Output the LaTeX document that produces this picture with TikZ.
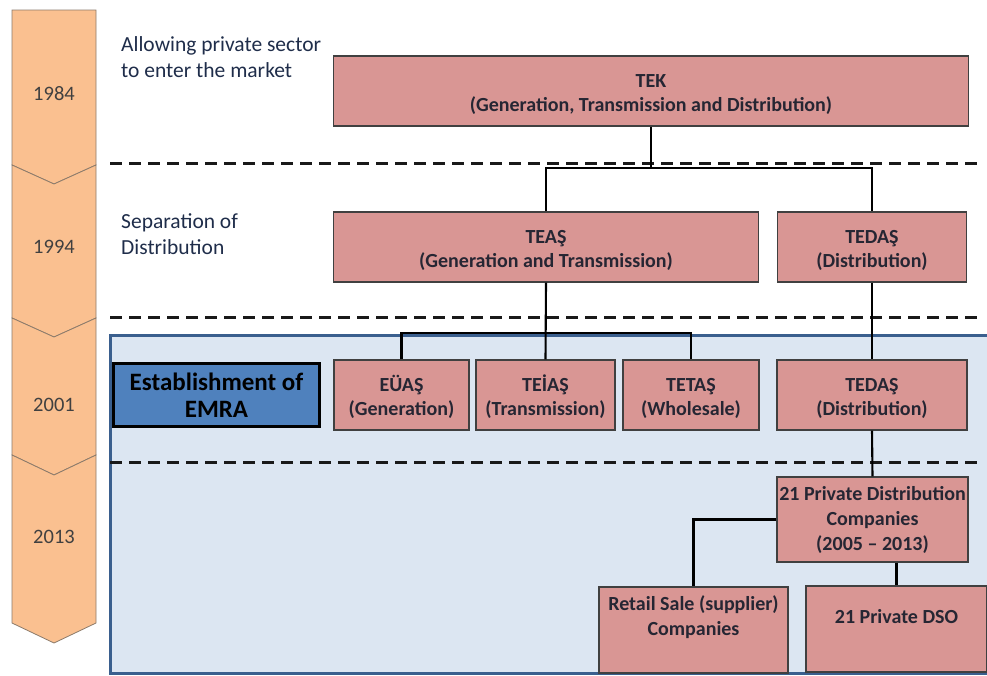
\documentclass[tikz,border=0pt]{standalone}
\usepackage{fontspec}
\setmainfont{Carlito}
\definecolor{boxfill}{HTML}{D99694}
\definecolor{boxline}{HTML}{404040}
\definecolor{chevfill}{HTML}{FAC090}
\definecolor{chevline}{HTML}{8C7B6B}
\definecolor{bluefill}{HTML}{DCE6F2}
\definecolor{blueline}{HTML}{3A5F8E}
\definecolor{emrafill}{HTML}{4F81BD}
\definecolor{labeltext}{HTML}{1F2D4A}
\definecolor{boxtext}{HTML}{262633}
\newcommand{\lostrut}{\rule{0pt}{21pt}}
\begin{document}
\begin{tikzpicture}[x=1pt,y=-1pt,
  orgbox/.style={draw=boxline,fill=boxfill,line width=1.3pt,inner sep=0pt,align=center,
     font=\fontsize{20}{24}\selectfont\bfseries,text=boxtext},
  boxlabel/.style={inner sep=0pt,align=center,font=\fontsize{20}{25}\selectfont\bfseries,text=boxtext},
  conn/.style={draw=black,line width=2.1pt},
  sep/.style={draw=black!90,line width=3pt,dash pattern=on 12pt off 7pt},
  chev/.style={draw=chevline,fill=chevfill,line width=0.8pt,line join=miter},
  year/.style={font=\fontsize{20.5}{24}\selectfont,text=black!75},
  phase/.style={font=\fontsize{21.5}{26}\selectfont,text=labeltext,align=left,anchor=north west,inner sep=0pt}]
\useasboundingbox (0,0) rectangle (987,675);
% blue 2001+ region
\path[fill=bluefill,draw=blueline,line width=3pt] (110,335) rectangle (1000,673);
% timeline chevrons
\path[chev] (12,10) -- (96,10) -- (96,165) -- (54,184) -- (12,165) -- cycle;
\path[chev] (12,165) -- (54,184) -- (96,165) -- (96,318) -- (54,337) -- (12,318) -- cycle;
\path[chev] (12,318) -- (54,337) -- (96,318) -- (96,455) -- (54,475) -- (12,455) -- cycle;
\path[chev] (12,455) -- (54,475) -- (96,455) -- (96,623) -- (54,643) -- (12,623) -- cycle;
\node[year] (y84) at (54,94) {1984};
\node[year] (y94) at (54,247) {1994};
\node[year] (y01) at (54,405) {2001};
\node[year] (y13) at (54,537) {2013};
% phase labels
\node[phase] (p84) at (121,36) {Allowing private sector\\to enter the market};
\node[phase] (p94) at (121,213) {Separation of\\Distribution};
% separators
\draw[sep] (110,163) -- (983,163);
\draw[sep] (110,317) -- (983,317);
\draw[sep] (110,462) -- (983,462);
% boxes
\node[orgbox,minimum width=635pt,minimum height=70pt] (tek) at (651,91) {\lostrut TEK\\(Generation, Transmission and Distribution)};
\node[orgbox,minimum width=425pt,minimum height=70pt] (teas) at (546,247) {\lostrut TEAŞ\\(Generation and Transmission)};
\node[orgbox,minimum width=189pt,minimum height=70pt] (tedas) at (872,247) {\lostrut TEDAŞ\\(Distribution)};
\node[draw=black,fill=emrafill,line width=3pt,minimum width=206pt,minimum height=63pt,inner sep=0pt,align=center,
      font=\fontsize{25}{27}\selectfont\bfseries,text=black] (emra) at (216.5,395) {Establishment of\\EMRA};
\node[orgbox,minimum width=135pt,minimum height=70pt] (euas) at (401.5,395) {\lostrut EÜAŞ\\(Generation)};
\node[orgbox,minimum width=139pt,minimum height=70pt] (teias) at (545.5,395) {\lostrut TEİAŞ\\(Transmission)};
\node[orgbox,minimum width=136pt,minimum height=70pt] (tetas) at (691,395) {\lostrut TETAŞ\\(Wholesale)};
\node[orgbox,minimum width=190pt,minimum height=70pt] (tedas2) at (872,395) {\lostrut TEDAŞ\\(Distribution)};
\node[orgbox,minimum width=191pt,minimum height=85pt,font=\fontsize{20}{25}\selectfont\bfseries] (pdc) at (872.5,519.5) {21 Private Distribution\\Companies\\(2005 -- 2013)};
\node[orgbox,minimum width=189pt,minimum height=86pt] (retail) at (693.5,630) {};
\node[boxlabel,anchor=north] (retailt) at (693.5,595) {Retail Sale (supplier)\\Companies};
\node[orgbox,minimum width=181pt,minimum height=86pt] (dso) at (896.5,629) {};
\node[boxlabel] (dsot) at (896.5,617) {21 Private DSO};
% connectors
\coordinate (j1) at (651,168);
\draw[conn] (tek.south) -- (j1);
\draw[conn] (teas.north) |- (j1) -| (tedas.north);
\coordinate (j2) at (546,333);
\draw[conn] (teas.south) -- (teias.north);
\draw[conn] (euas.north) |- (j2) -| (tetas.north);
\draw[conn] (tedas.south) -- (tedas2.north);
\draw[conn] (tedas2.south) -- (pdc.north);
\draw[conn] (pdc.west) -| (retail.north);
\draw[conn] (pdc.south -| dso.north) -- (dso.north);
\end{tikzpicture}
\end{document}
